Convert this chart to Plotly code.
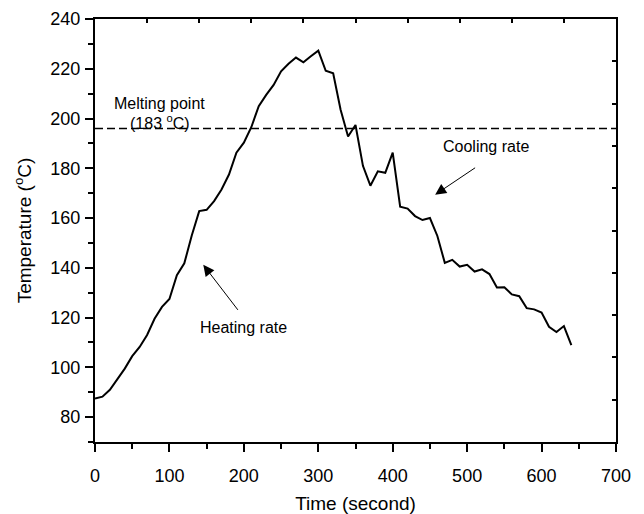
import plotly.graph_objects as go

time_s = [0, 10, 20, 30, 40, 50, 60, 70, 80, 90, 100, 110, 120, 130, 140, 150, 160, 170, 180, 190,
          200, 210, 220, 230, 240, 250, 260, 270, 280, 290, 300, 310, 320, 330, 340, 350, 360, 370,
          380, 390, 400, 410, 420, 430, 440, 450, 460, 470, 480, 490, 500, 510, 520, 530, 540, 550,
          560, 570, 580, 590, 600, 610, 620, 630, 640]
temp_c = [87.5, 88.2, 91.0, 95.0, 99.5, 104.5, 108.2, 113.0, 119.5, 124.3, 127.5, 137.0, 141.8,
          153.0, 162.8, 163.3, 166.8, 171.5, 177.5, 186.3, 190.3, 196.5, 205.0, 209.5, 213.5,
          219.0, 222.0, 224.5, 222.6, 225.0, 227.3, 219.2, 218.2, 203.5, 192.8, 197.4, 181.0,
          173.0, 178.8, 178.2, 186.3, 164.6, 163.8, 160.8, 159.2, 160.0, 152.8, 142.0, 143.2,
          140.5, 141.2, 138.5, 139.4, 137.5, 132.1, 132.2, 129.3, 128.6, 123.8, 123.3, 122.0,
          116.3, 114.2, 116.6, 108.9]
melting_line = 196
x_range = [0, 700]
y_range = [70, 240]

FONT = "Liberation Sans, Arial, sans-serif"

fig = go.Figure()
fig.add_trace(go.Scatter(x=time_s, y=temp_c, mode="lines",
                         line=dict(color="black", width=2), showlegend=False, hoverinfo="skip"))
# helper (invisible) trace to activate the top/right tick axes
fig.add_trace(go.Scatter(x=time_s, y=temp_c, mode="lines", xaxis="x2", yaxis="y2",
                         opacity=0, showlegend=False, hoverinfo="skip"))

fig.add_shape(type="line", xref="x", yref="y", x0=x_range[0], x1=x_range[1],
              y0=melting_line, y1=melting_line,
              line=dict(color="black", width=1.3, dash="8px,4px"))

ann_font = dict(family=FONT, size=16, color="black")
fig.add_annotation(x=87, y=206, text="Melting point", showarrow=False, font=ann_font)
fig.add_annotation(x=87, y=198.8, text="(183 <sup>o</sup>C)", showarrow=False, font=ann_font)
fig.add_annotation(x=526, y=188.6, text="Cooling rate", showarrow=False, font=ann_font)
fig.add_annotation(x=200, y=115.9, text="Heating rate", showarrow=False, font=ann_font)
fig.add_annotation(x=457, y=169.4, ax=512.7, ay=180.6, axref="x", ayref="y", xref="x", yref="y",
                   text="", showarrow=True, arrowhead=2, arrowsize=2.2, arrowwidth=1, arrowcolor="black")
fig.add_annotation(x=145.5, y=141.2, ax=193.5, ay=122.5, axref="x", ayref="y", xref="x", yref="y",
                   text="", showarrow=True, arrowhead=2, arrowsize=2.2, arrowwidth=1, arrowcolor="black")

tick_font = dict(family=FONT, size=18, color="black")
# page body has an 8px margin: figure is sized to fill the rest of the window
fig.update_layout(
    width=636, height=506,
    margin=dict(l=87, r=28, t=11, b=72, autoexpand=False),
    paper_bgcolor="white", plot_bgcolor="white",
    font=dict(family=FONT, color="black"),
    xaxis=dict(range=x_range, dtick=100, tick0=0, ticks="outside", ticklen=8, tickwidth=1.5,
               tickcolor="black", showgrid=False, zeroline=False, showline=True, linecolor="black",
               linewidth=2, mirror=True, tickfont=tick_font, automargin=False, ticklabelstandoff=8,
               minor=dict(dtick=50, ticks="outside", ticklen=5, tickwidth=1.5, tickcolor="black"),
               title=dict(text="Time (second)", font=dict(family=FONT, size=19), standoff=15)),
    yaxis=dict(range=y_range, dtick=20, tick0=80, ticks="outside", ticklen=8, tickwidth=1.5,
               tickcolor="black", showgrid=False, zeroline=False, showline=True, linecolor="black",
               linewidth=2, mirror=True, tickfont=tick_font, automargin=False, ticklabelstandoff=1,
               minor=dict(dtick=10, tick0=70, ticks="outside", ticklen=5, tickwidth=1.5, tickcolor="black"),
               title=dict(text="Temperature (<sup>o</sup>C)", font=dict(family=FONT, size=19), standoff=14)),
    xaxis2=dict(range=x_range, overlaying="x", side="top", tick0=0, dtick=70, ticks="inside",
                ticklen=4, tickwidth=1.5, tickcolor="black", showticklabels=False, showgrid=False,
                zeroline=False, showline=False, automargin=False),
    yaxis2=dict(range=y_range, overlaying="y", side="right", tick0=70, dtick=17, ticks="inside",
                ticklen=4, tickwidth=1.5, tickcolor="black", showticklabels=False, showgrid=False,
                zeroline=False, showline=False, automargin=False),
)

fig.write_html("out.html")
